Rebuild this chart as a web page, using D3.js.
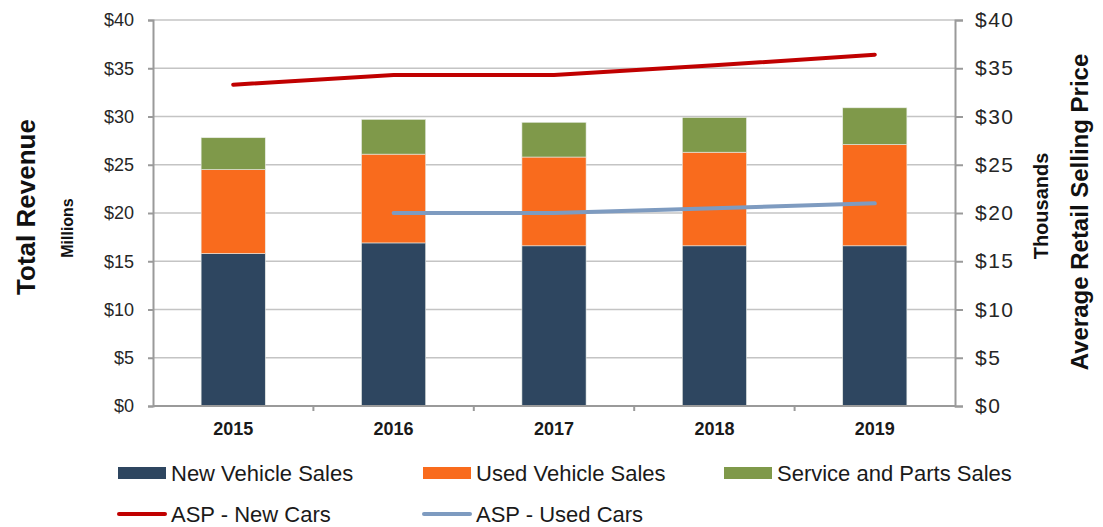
<meta charset="utf-8">
<style>
  body { margin: 0; background: #fff; }
  text { font-family: "Liberation Sans", Arial, sans-serif; }
</style>
<svg width="1103" height="527"></svg>
<script src="https://d3js.org/d3.v7.min.js"></script>
<script>
var years = ["2015", "2016", "2017", "2018", "2019"];
// revenue, millions
var newVehicle = [15.8, 16.9, 16.6, 16.6, 16.6];
var usedVehicle = [8.7, 9.2, 9.2, 9.7, 10.5];
var serviceParts = [3.3, 3.6, 3.6, 3.6, 3.8];
// average selling price, thousands
var aspNew = [33.3, 34.3, 34.3, 35.3, 36.4];
var aspUsed = [null, 20.0, 20.0, 20.5, 21.0];
var leftTicks = [0, 5, 10, 15, 20, 25, 30, 35, 40];
var rightTicks = [0, 5, 10, 15, 20, 25, 30, 35, 40];

var colors = {
  newVehicle: "#2e4660",
  usedVehicle: "#f96b1d",
  serviceParts: "#7f994a",
  aspNew: "#c00000",
  aspUsed: "#7e9bc0"
};

var svg = d3.select("svg");
var margin = {left: 153, right: 148, top: 20, bottom: 121};
var width = +svg.attr("width"), height = +svg.attr("height");

var data = years.map(function(y, i) {
  return {year: y, newVehicle: newVehicle[i], usedVehicle: usedVehicle[i], serviceParts: serviceParts[i]};
});

var x = d3.scaleBand()
  .domain(years)
  .range([margin.left, width - margin.right])
  .paddingInner(0.6)
  .paddingOuter(0.3);

var yL = d3.scaleLinear().domain([0, 40]).range([height - margin.bottom, margin.top]);
var yR = d3.scaleLinear().domain([0, 40]).range([height - margin.bottom, margin.top]);

// grid
svg.append("g")
  .selectAll("line")
  .data(leftTicks.slice(1))
  .enter().append("line")
    .attr("x1", margin.left)
    .attr("x2", width - margin.right)
    .attr("y1", function(d) { return yL(d); })
    .attr("y2", function(d) { return yL(d); })
    .attr("stroke", "#c4c4c4")
    .attr("stroke-width", 1.6);

// stacked bars
var series = d3.stack().keys(["newVehicle", "usedVehicle", "serviceParts"])(data);

svg.append("g")
  .selectAll("g")
  .data(series)
  .enter().append("g")
    .attr("fill", function(d) { return colors[d.key]; })
  .selectAll("rect")
  .data(function(d) { return d; })
  .enter().append("rect")
    .attr("x", function(d) { return x(d.data.year); })
    .attr("width", x.bandwidth())
    .attr("y", function(d) { return yL(d[1]); })
    .attr("height", function(d) { return yL(d[0]) - yL(d[1]); })
    .attr("stroke", "#e8ece6")
    .attr("stroke-width", 0.6);

// lines
var line = d3.line()
  .defined(function(d) { return d.v != null; })
  .x(function(d) { return x(d.year) + x.bandwidth() / 2; })
  .y(function(d) { return yR(d.v); });

function lineData(arr) {
  return years.map(function(y, i) { return {year: y, v: arr[i]}; });
}

svg.append("path")
  .datum(lineData(aspNew))
  .attr("d", line)
  .attr("fill", "none")
  .attr("stroke", colors.aspNew)
  .attr("stroke-width", 4)
  .attr("stroke-linecap", "round");

svg.append("path")
  .datum(lineData(aspUsed))
  .attr("d", line)
  .attr("fill", "none")
  .attr("stroke", colors.aspUsed)
  .attr("stroke-width", 4)
  .attr("stroke-linecap", "round");

// axes
var axisColor = "#9a9a9a";

var gL = svg.append("g")
  .attr("transform", "translate(" + margin.left + ",0)")
  .call(d3.axisLeft(yL).tickValues(leftTicks).tickSize(5).tickPadding(14)
    .tickFormat(function(d) { return "$" + d; }));

var gR = svg.append("g")
  .attr("transform", "translate(" + (width - margin.right) + ",0)")
  .call(d3.axisRight(yR).tickValues(rightTicks).tickSize(8).tickPadding(12)
    .tickFormat(function(d) { return "$" + d; }));

var step = x.step();
var boundaries = years.slice(1).map(function(y) { return x(y) - step * x.paddingInner() / 2; });

var gX = svg.append("g")
  .attr("transform", "translate(0," + yL(0) + ")");
gX.append("line")
  .attr("x1", margin.left)
  .attr("x2", width - margin.right)
  .attr("stroke", axisColor)
  .attr("stroke-width", 2);
gX.selectAll(".tk")
  .data(boundaries)
  .enter().append("line")
    .attr("class", "tk")
    .attr("x1", function(d) { return d; })
    .attr("x2", function(d) { return d; })
    .attr("y2", 5)
    .attr("stroke", axisColor)
    .attr("stroke-width", 2);
gX.selectAll(".lbl")
  .data(years)
  .enter().append("text")
    .attr("class", "lbl")
    .attr("x", function(d) { return x(d) + x.bandwidth() / 2; })
    .attr("y", 29)
    .attr("text-anchor", "middle")
    .attr("font-size", 18)
    .attr("font-weight", "bold")
    .attr("fill", "#1a1a1a")
    .text(function(d) { return d; });

[gL, gR].forEach(function(g) {
  g.select(".domain").attr("stroke", axisColor).attr("stroke-width", 2);
  g.selectAll(".tick line").attr("stroke", axisColor).attr("stroke-width", 2);
  g.selectAll(".tick text").attr("fill", "#262626").attr("font-family", "Liberation Sans, Arial, sans-serif");
});
gL.selectAll(".tick text").attr("font-size", 18);
gR.selectAll(".tick text").attr("font-size", 21).attr("letter-spacing", 1.5);

// axis titles
svg.append("text")
  .attr("transform", "translate(35,207) rotate(-90)")
  .attr("text-anchor", "middle")
  .attr("font-size", 26)
  .attr("font-weight", "bold")
  .attr("fill", "#111")
  .text("Total Revenue");

svg.append("text")
  .attr("transform", "translate(73,228) rotate(-90)")
  .attr("text-anchor", "middle")
  .attr("font-size", 16)
  .attr("font-weight", "bold")
  .attr("fill", "#111")
  .text("Millions");

svg.append("text")
  .attr("transform", "translate(1048,206) rotate(-90)")
  .attr("text-anchor", "middle")
  .attr("font-size", 20)
  .attr("font-weight", "bold")
  .attr("fill", "#111")
  .text("Thousands");

svg.append("text")
  .attr("transform", "translate(1088,212) rotate(-90)")
  .attr("text-anchor", "middle")
  .attr("font-size", 24)
  .attr("font-weight", "bold")
  .attr("fill", "#111")
  .text("Average Retail Selling Price");

// legend
var legendItems = [
  {name: "New Vehicle Sales", key: "newVehicle", type: "rect", x: 118, y: 473},
  {name: "Used Vehicle Sales", key: "usedVehicle", type: "rect", x: 423, y: 473},
  {name: "Service and Parts Sales", key: "serviceParts", type: "rect", x: 724, y: 473},
  {name: "ASP - New Cars", key: "aspNew", type: "line", x: 118, y: 514},
  {name: "ASP - Used Cars", key: "aspUsed", type: "line", x: 423, y: 514}
];

var lg = svg.append("g").selectAll("g")
  .data(legendItems)
  .enter().append("g")
    .attr("transform", function(d) { return "translate(" + d.x + "," + d.y + ")"; });

lg.filter(function(d) { return d.type == "rect"; })
  .append("rect")
    .attr("x", 0).attr("y", -6)
    .attr("width", 48).attr("height", 12)
    .attr("fill", function(d) { return colors[d.key]; });

lg.filter(function(d) { return d.type == "line"; })
  .append("line")
    .attr("x1", 1).attr("x2", 47)
    .attr("stroke", function(d) { return colors[d.key]; })
    .attr("stroke-width", 4)
    .attr("stroke-linecap", "round");

lg.append("text")
  .attr("x", 53)
  .attr("y", 7.5)
  .attr("font-size", 22)
  .attr("fill", "#1a1a1a")
  .text(function(d) { return d.name; });
</script>
